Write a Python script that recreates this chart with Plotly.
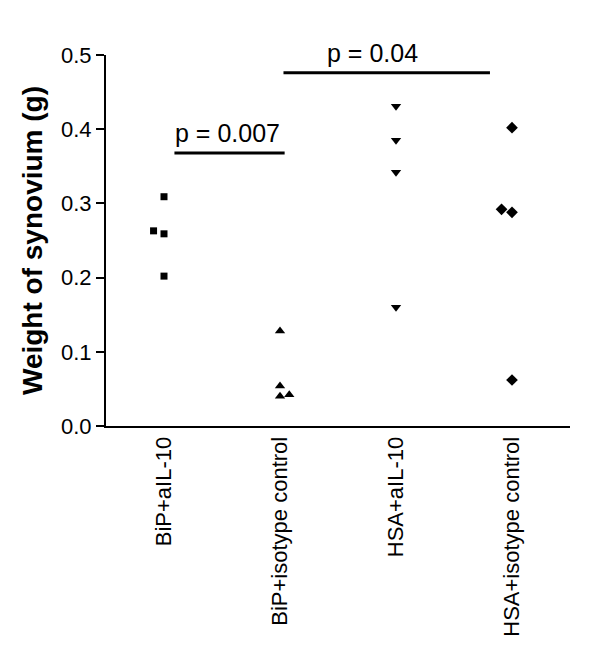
import plotly.graph_objects as go

# groups and weights
groups = ["BiP+aIL-10", "BiP+isotype control", "HSA+aIL-10", "HSA+isotype control"]
bip_il10 = [0.309, 0.263, 0.259, 0.202]
bip_iso = [0.128, 0.054, 0.040, 0.042]
hsa_il10 = [0.431, 0.385, 0.342, 0.160]
hsa_iso = [0.402, 0.292, 0.288, 0.062]

# small horizontal jitter like in the original
jitter_bip_il10 = [0.0, -0.09, 0.0, 0.0]
jitter_bip_iso = [0.0, 0.0, 0.0, 0.08]
jitter_hsa_il10 = [0.0, 0.0, 0.0, 0.0]
jitter_hsa_iso = [0.0, -0.09, 0.0, 0.0]

# significance bars: (x0, x1, y, label, label x)
sig_bars = [
    (0.09, 1.04, 0.368, "p = 0.007", 0.55),
    (1.03, 2.81, 0.476, "p = 0.04", 1.80),
]

series = [
    (bip_il10, jitter_bip_il10, "square", 7),
    (bip_iso, jitter_bip_iso, "triangle-up", 9),
    (hsa_il10, jitter_hsa_il10, "triangle-down", 9),
    (hsa_iso, jitter_hsa_iso, "diamond", 9),
]

fig = go.Figure()
for i, (vals, jit, sym, sz) in enumerate(series):
    fig.add_trace(go.Scatter(
        x=[i + j for j in jit], y=vals, mode="markers",
        marker=dict(symbol=sym, size=sz, color="black", line=dict(width=0)),
        showlegend=False,
    ))

for x0, x1, y, lab, lx in sig_bars:
    fig.add_shape(type="line", x0=x0, x1=x1, y0=y, y1=y, xref="x", yref="y",
                  line=dict(color="black", width=3))
    fig.add_annotation(x=lx, y=y, yshift=20, text=lab, showarrow=False,
                       font=dict(size=25, color="black"), xref="x", yref="y")

fig.update_layout(
    width=600, height=661,
    paper_bgcolor="white", plot_bgcolor="white",
    margin=dict(l=98, r=38, t=47, b=243),
    font=dict(family="Liberation Sans, Arial, sans-serif", color="black"),
)
fig.update_xaxes(
    range=[-0.5, 3.5], tickmode="array", tickvals=[0, 1, 2, 3], ticktext=groups,
    tickangle=-90, tickfont=dict(size=22), showline=True, linecolor="black",
    linewidth=2, showgrid=False, zeroline=False, ticks="",
)
fig.update_yaxes(
    range=[0, 0.5], dtick=0.1, tickformat=".1f", tickfont=dict(size=22),
    showline=True, linecolor="black", linewidth=2, ticks="outside", ticklen=8,
    tickwidth=2, tickcolor="black", showgrid=False, zeroline=False,
    title=dict(text="<b>Weight of synovium (g)</b>", font=dict(size=28), standoff=10),
)

fig.write_html("out.html")
